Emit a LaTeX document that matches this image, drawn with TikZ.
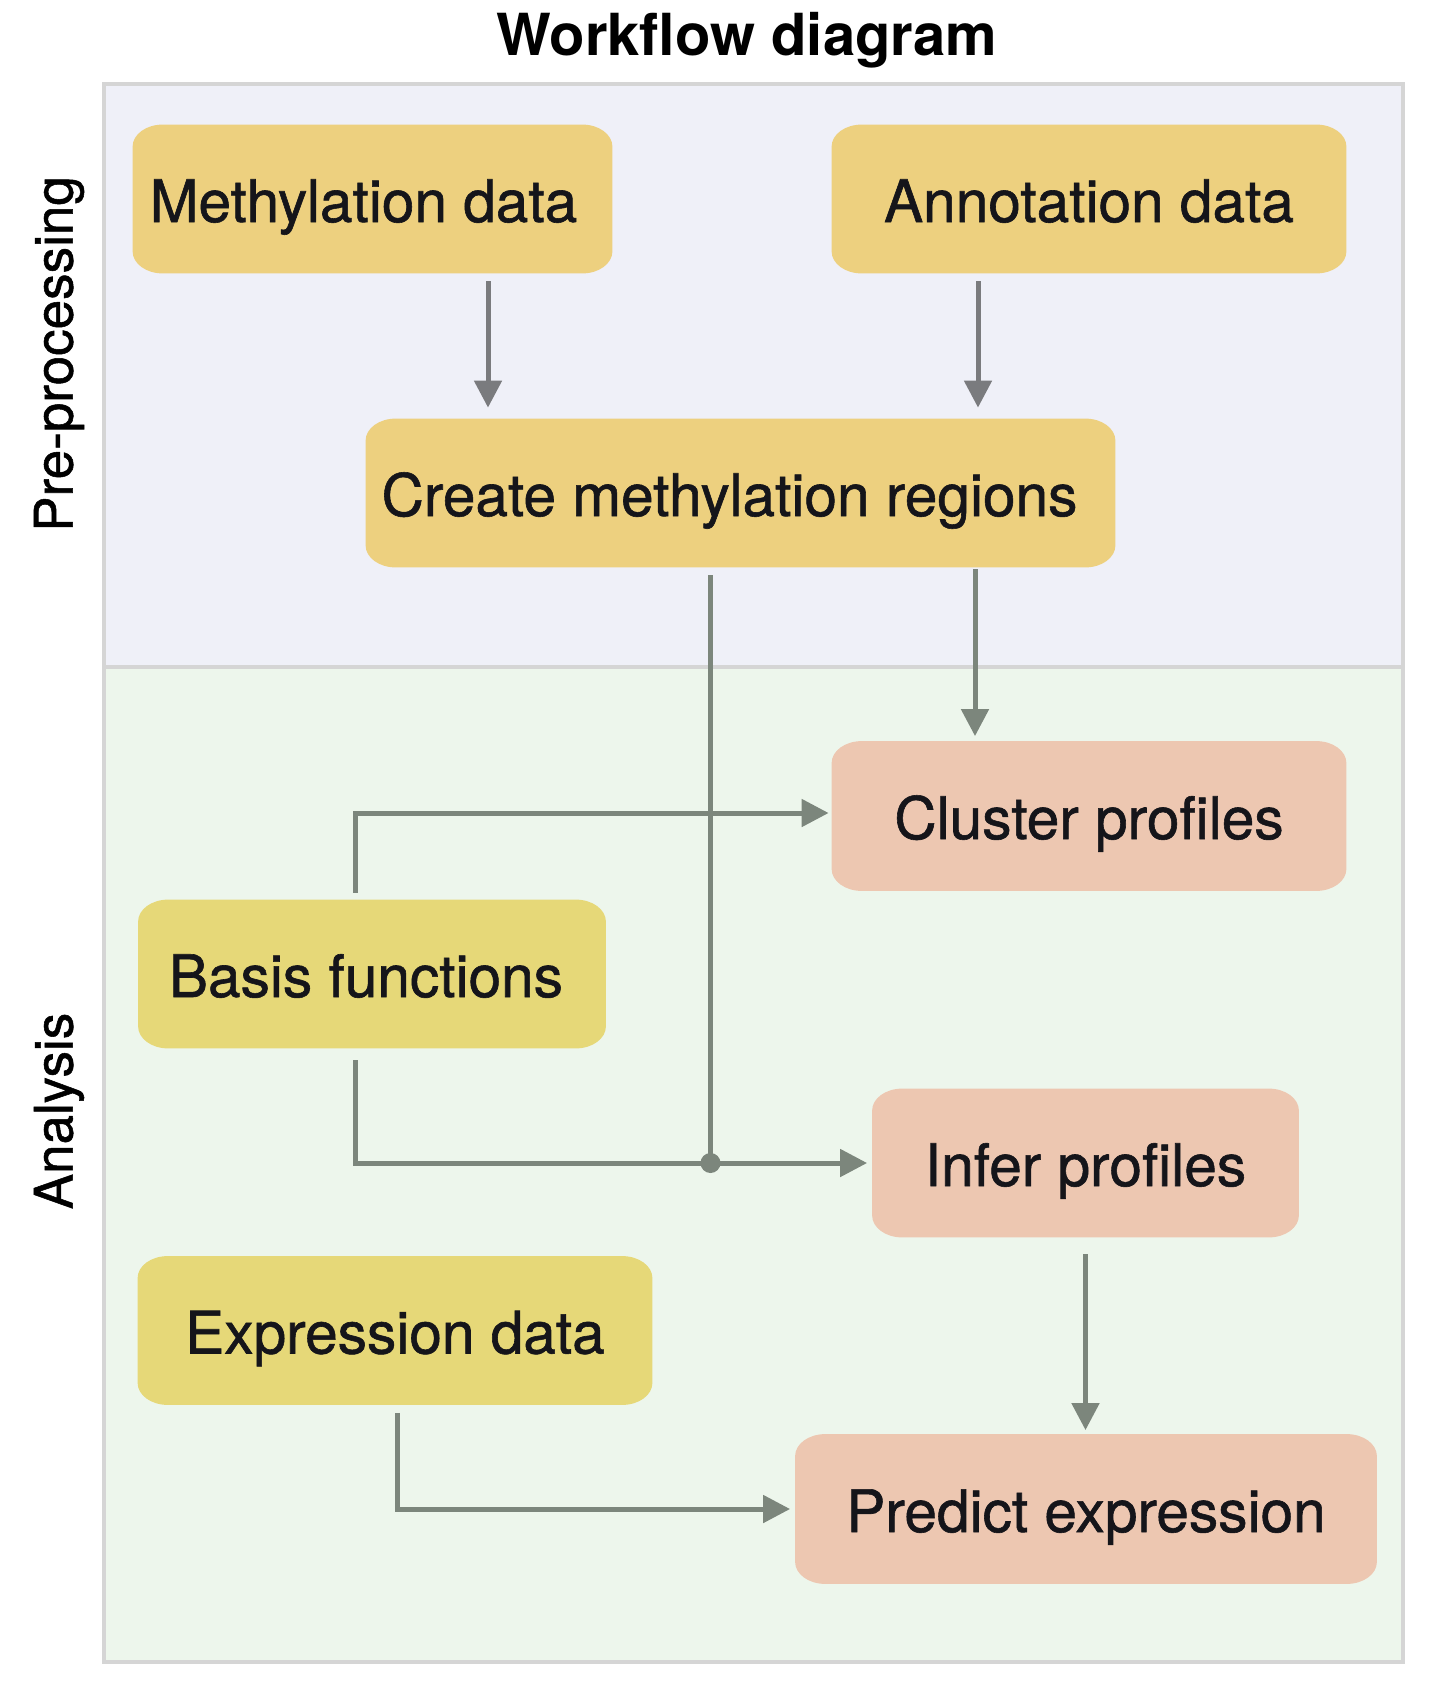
\documentclass[tikz,border=0pt]{standalone}
\usepackage{fontspec}
\setmainfont{TeX Gyre Heros}
\newfontfamily\medfont[FakeBold=1.0]{TeX Gyre Heros}
\usetikzlibrary{arrows.meta,backgrounds,calc}
\definecolor{prebg}{HTML}{EFF0F8}
\definecolor{anbg}{HTML}{EDF6EC}
\definecolor{panelline}{HTML}{D5D5D5}
\definecolor{yel}{HTML}{EDD07F}
\definecolor{yelg}{HTML}{E6D878}
\definecolor{pinkbox}{HTML}{EDC7B1}
\definecolor{arrgray}{HTML}{7A7B7E}
\definecolor{arrgreen}{HTML}{7C867C}
\definecolor{txt}{HTML}{15151A}
\newcommand\roundbox[2]{%
 \fill[#2] ([xshift=15pt]#1.north west) -- ([xshift=-15pt]#1.north east)
  arc[start angle=90,end angle=0,x radius=15pt,y radius=11pt]
  -- ([yshift=11pt]#1.south east)
  arc[start angle=0,end angle=-90,x radius=15pt,y radius=11pt]
  -- ([xshift=15pt]#1.south west)
  arc[start angle=270,end angle=180,x radius=15pt,y radius=11pt]
  -- ([yshift=-11pt]#1.north west)
  arc[start angle=180,end angle=90,x radius=15pt,y radius=11pt] -- cycle;}
\tikzset{
 box/.style={inner sep=0pt, text=txt, font=\medfont\fontsize{29.3}{34}\selectfont, align=center, text height=23pt, text depth=0pt},
 arr/.style={line width=2.5pt, -{Triangle[length=13.5pt,width=13.5pt]}},
 ln/.style={line width=2.5pt},
 panel/.style={draw=panelline, line width=1.6pt},
}
\begin{document}
\begin{tikzpicture}[x=0.5pt,y=-0.5pt]
\useasboundingbox (0,0) rectangle (1440,1692);
\begin{scope}[on background layer]
 \fill[white] (0,0) rectangle (1440,1692);
 \filldraw[panel, fill=prebg] (104,84) rectangle (1403,667);
 \filldraw[panel, fill=anbg] (104,667) rectangle (1403,1662);
\end{scope}
\node[font=\bfseries\fontsize{29}{34}\selectfont, text=black] (T) at (747,40) {Workflow diagram};
\node[rotate=90, font=\medfont\fontsize{26.5}{30}\selectfont, text=black] (L1) at (59,354) {Pre-processing};
\node[rotate=90, font=\medfont\fontsize{26.5}{30}\selectfont, text=black] (L2) at (59,1111) {Analysis};

\node[box, minimum width=239.5pt, minimum height=74pt] (M) at (372.5,199) {Methylation data\hspace{9pt}};
\node[box, minimum width=257pt, minimum height=74pt] (A) at (1089,199) {Annotation data};
\node[box, minimum width=374.5pt, minimum height=74pt] (C) at (740.5,493) {Create methylation regions\hspace{11pt}};
\node[box, minimum width=257pt, minimum height=74.5pt] (Cl) at (1089,816) {Cluster profiles};
\node[box, minimum width=233.5pt, minimum height=74pt] (B) at (372,974) {Basis functions\hspace{6pt}};
\node[box, minimum width=213pt, minimum height=74pt] (I) at (1085.5,1163) {Infer profiles};
\node[box, minimum width=257pt, minimum height=74pt] (E) at (395,1330.5) {Expression data};
\node[box, minimum width=290.5pt, minimum height=74.5pt] (P) at (1086,1509) {Predict expression};

\begin{scope}[on background layer]
 \roundbox{M}{yel}
 \roundbox{A}{yel}
 \roundbox{C}{yel}
 \roundbox{Cl}{pinkbox}
 \roundbox{B}{yelg}
 \roundbox{I}{pinkbox}
 \roundbox{E}{yelg}
 \roundbox{P}{pinkbox}
\end{scope}

\draw[arr, arrgray, shorten >=5.5pt] ([xshift=57.75pt,yshift=-4pt]M.south) -- ([xshift=57.75pt]M.south |- C.north);
\draw[arr, arrgray, shorten >=5.5pt] ([xshift=-55.5pt,yshift=-4pt]A.south) -- ([xshift=-55.5pt]A.south |- C.north);
\draw[arr, arrgreen, shorten >=2.5pt] ([xshift=117.25pt,yshift=-1pt]C.south) -- ([xshift=117.25pt]C.south |- Cl.north);
\coordinate (J) at ([xshift=-15pt]C.south |- I.west);
\draw[ln, arrgreen] ([xshift=-15pt,yshift=-4pt]C.south) -- (J);
\draw[arr, arrgreen, shorten >=1.5pt] ([xshift=-8.5pt,yshift=3.5pt]B.north) |- ([yshift=1.5pt]Cl.west);
\draw[arr, arrgreen, shorten >=2.5pt] ([xshift=-8.5pt,yshift=-6pt]B.south) |- (I.west);
\fill[arrgreen] (J) circle (5pt);
\draw[arr, arrgreen, shorten >=2pt] ([yshift=-8.5pt]I.south) -- (I.south |- P.north);
\draw[arr, arrgreen, shorten >=2.5pt] ([xshift=1pt,yshift=-4pt]E.south) |- (P.west);
\end{tikzpicture}
\end{document}
